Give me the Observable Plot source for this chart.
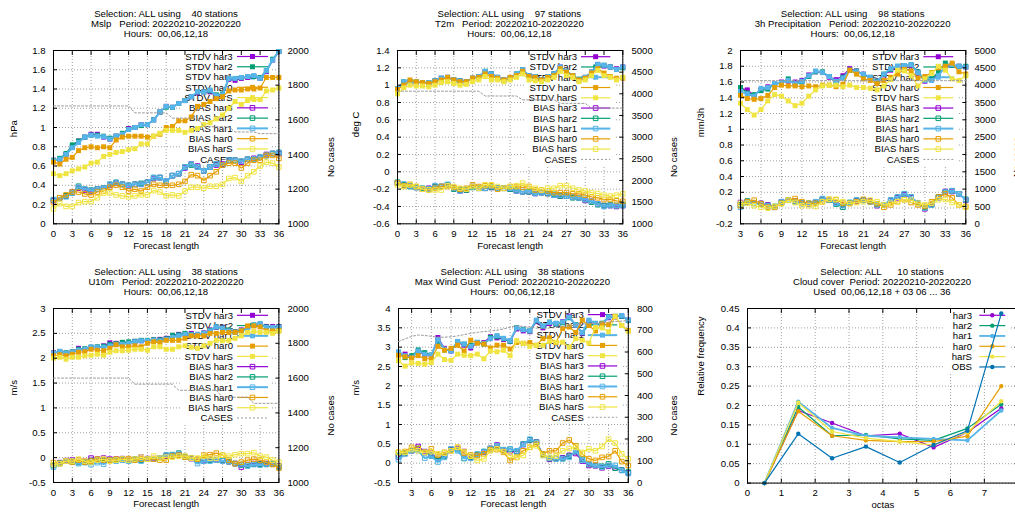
<!DOCTYPE html>
<html><head><meta charset="utf-8">
<script src="https://cdn.jsdelivr.net/npm/d3@7"></script>
<script src="https://cdn.jsdelivr.net/npm/@observablehq/plot@0.6"></script>
<style>
body{margin:0;background:#fff;}
#page{position:relative;width:1015px;height:513px;overflow:hidden;background:#fff;font-family:"Liberation Sans",Arial,sans-serif;}
.title{position:absolute;width:500px;text-align:center;font-size:9.6px;line-height:9.8px;white-space:pre;color:#000;}
</style></head><body><div id="page"></div>
<script>
// ---------------- categories / ticks ----------------
const modelNames = ["har3", "har2", "har1", "har0", "harS"];
const modelColors = ["#9400d3", "#009e73", "#56b4e9", "#e69f00", "#f0e442"];
const obsColor = "#0072b2";
const casesColor = "#9a9a9a";

const hours0to36 = [0,1,2,3,4,5,6,7,8,9,10,11,12,13,14,15,16,17,18,19,20,21,22,23,24,25,26,27,28,29,30,31,32,33,34,35,36];
const hours1to36 = [1,2,3,4,5,6,7,8,9,10,11,12,13,14,15,16,17,18,19,20,21,22,23,24,25,26,27,28,29,30,31,32,33,34,35,36];
const hours3to36 = [3,4,5,6,7,8,9,10,11,12,13,14,15,16,17,18,19,20,21,22,23,24,25,26,27,28,29,30,31,32,33,34,35,36];
const octaBins = [0.5,1.5,2.5,3.5,4.5,5.5,6.5,7.5];

const hourTicks0 = [0,3,6,9,12,15,18,21,24,27,30,33,36];
const hourTicks3 = [3,6,9,12,15,18,21,24,27,30,33,36];
const octaTicks = [0,1,2,3,4,5,6,7];

const mslpYTicks = [0,0.2,0.4,0.6,0.8,1,1.2,1.4,1.6,1.8];
const mslpY2Ticks = [1000,1200,1400,1600,1800,2000];
const t2mYTicks = [-0.6,-0.4,-0.2,0,0.2,0.4,0.6,0.8,1,1.2,1.4];
const t2mY2Ticks = [1000,1500,2000,2500,3000,3500,4000,4500,5000];
const precipYTicks = [-0.2,0,0.2,0.4,0.6,0.8,1,1.2,1.4,1.6,1.8,2];
const precipY2Ticks = [0,500,1000,1500,2000,2500,3000,3500,4000,4500,5000];
const u10YTicks = [-0.5,0,0.5,1,1.5,2,2.5,3];
const u10Y2Ticks = [1000,1200,1400,1600,1800,2000];
const gustYTicks = [-0.5,0,0.5,1,1.5,2,2.5,3,3.5,4];
const gustY2Ticks = [0,100,200,300,400,500,600,700,800];
const cloudYTicks = [0,0.05,0.1,0.15,0.2,0.25,0.3,0.35,0.4,0.45];

const cloudLegendLabels = ["har3","har2","har1","har0","harS","OBS"];

// ---------------- Mslp ----------------
const mslpStdvHar3 = [0.66,0.67,0.72,0.80,0.86,0.90,0.93,0.93,0.90,0.88,0.91,0.93,0.99,1.00,1.03,1.03,1.08,1.16,1.22,1.21,1.25,1.28,1.32,1.36,1.37,1.37,1.33,1.34,1.50,1.49,1.51,1.52,1.53,1.51,1.58,1.70,1.79];
const mslpStdvHar2 = [0.66,0.68,0.73,0.82,0.86,0.90,0.92,0.92,0.91,0.89,0.91,0.94,0.98,1.00,1.02,1.03,1.08,1.16,1.21,1.21,1.25,1.28,1.32,1.37,1.37,1.38,1.34,1.35,1.51,1.51,1.52,1.53,1.53,1.52,1.59,1.71,1.79];
const mslpStdvHar1 = [0.655,0.67,0.72,0.79,0.845,0.90,0.92,0.91,0.905,0.88,0.91,0.93,0.98,1.00,1.03,1.03,1.08,1.16,1.22,1.21,1.25,1.28,1.32,1.37,1.37,1.39,1.33,1.34,1.51,1.51,1.52,1.53,1.54,1.51,1.59,1.70,1.79];
const mslpStdvHar0 = [0.64,0.62,0.67,0.69,0.76,0.79,0.80,0.79,0.80,0.79,0.87,0.90,0.91,0.91,0.91,0.90,0.91,0.93,1.00,1.01,1.07,1.07,1.11,1.22,1.24,1.27,1.30,1.32,1.38,1.39,1.39,1.40,1.40,1.41,1.52,1.52,1.52];
const mslpStdvHarS = [0.52,0.50,0.52,0.55,0.57,0.59,0.63,0.64,0.70,0.72,0.74,0.75,0.77,0.78,0.83,0.83,0.91,0.94,0.97,0.97,0.97,0.95,0.97,0.99,1.03,1.05,1.09,1.13,1.20,1.27,1.24,1.28,1.29,1.29,1.38,1.39,1.41];
const mslpBiasHar3 = [0.24,0.27,0.29,0.33,0.37,0.35,0.34,0.36,0.37,0.40,0.42,0.41,0.39,0.41,0.41,0.43,0.47,0.48,0.44,0.50,0.52,0.58,0.62,0.60,0.55,0.59,0.61,0.62,0.66,0.66,0.64,0.67,0.68,0.69,0.72,0.73,0.73];
const mslpBiasHar2 = [0.25,0.27,0.29,0.32,0.39,0.36,0.35,0.36,0.37,0.41,0.43,0.41,0.40,0.41,0.42,0.43,0.48,0.48,0.44,0.50,0.52,0.59,0.61,0.59,0.55,0.59,0.62,0.61,0.66,0.66,0.65,0.67,0.67,0.69,0.71,0.73,0.74];
const mslpBiasHar1 = [0.25,0.27,0.28,0.32,0.38,0.36,0.345,0.36,0.37,0.41,0.43,0.41,0.40,0.41,0.41,0.43,0.48,0.48,0.44,0.50,0.52,0.59,0.62,0.59,0.55,0.59,0.62,0.61,0.66,0.66,0.65,0.67,0.67,0.69,0.71,0.73,0.74];
const mslpBiasHar0 = [0.22,0.27,0.30,0.33,0.33,0.31,0.30,0.33,0.34,0.38,0.40,0.38,0.34,0.36,0.34,0.38,0.41,0.40,0.40,0.40,0.41,0.44,0.51,0.50,0.45,0.50,0.54,0.61,0.63,0.63,0.58,0.63,0.66,0.66,0.71,0.71,0.68];
const mslpBiasHarS = [0.155,0.21,0.18,0.18,0.22,0.23,0.23,0.27,0.32,0.32,0.30,0.29,0.28,0.29,0.30,0.30,0.345,0.33,0.29,0.30,0.29,0.34,0.38,0.38,0.37,0.39,0.39,0.41,0.47,0.48,0.44,0.50,0.54,0.60,0.64,0.63,0.59];
const mslpCases = [1680,1680,1680,1680,1680,1680,1680,1680,1680,1680,1680,1680,1680,1640,1640,1640,1640,1640,1640,1610,1610,1610,1610,1610,1560,1560,1560,1560,1560,1530,1530,1530,1530,1520,1520,1520,1520];

// ---------------- T2m ----------------
const t2mStdvHar3 = [0.96,1.03,1.04,1.03,1.03,1.02,1.05,1.08,1.09,1.06,1.05,1.04,1.08,1.10,1.15,1.13,1.09,1.06,1.08,1.12,1.18,1.11,1.10,1.06,1.10,1.13,1.21,1.16,1.11,1.06,1.09,1.15,1.24,1.22,1.21,1.19,1.21];
const t2mStdvHar2 = [0.96,1.04,1.04,1.04,1.03,1.03,1.05,1.08,1.09,1.06,1.05,1.04,1.08,1.10,1.16,1.13,1.09,1.06,1.08,1.13,1.18,1.11,1.10,1.06,1.10,1.13,1.20,1.16,1.11,1.07,1.09,1.15,1.23,1.23,1.21,1.18,1.20];
const t2mStdvHar1 = [0.96,1.04,1.04,1.04,1.03,1.03,1.05,1.08,1.09,1.06,1.05,1.04,1.08,1.10,1.16,1.13,1.09,1.06,1.08,1.13,1.18,1.11,1.10,1.06,1.10,1.13,1.21,1.16,1.11,1.06,1.09,1.15,1.24,1.23,1.21,1.18,1.21];
const t2mStdvHar0 = [0.95,1.00,1.06,1.04,1.03,1.02,1.04,1.06,1.09,1.06,1.04,1.04,1.08,1.09,1.13,1.10,1.08,1.06,1.09,1.11,1.16,1.10,1.09,1.06,1.09,1.11,1.19,1.15,1.11,1.06,1.08,1.14,1.19,1.14,1.10,1.08,1.08];
const t2mStdvHarS = [0.90,0.97,1.00,0.99,0.99,0.98,1.00,1.03,1.04,1.02,1.00,1.01,1.04,1.06,1.10,1.06,1.06,1.04,1.06,1.09,1.13,1.06,1.05,1.04,1.06,1.09,1.16,1.11,1.09,1.04,1.06,1.11,1.17,1.11,1.09,1.06,1.09];
const t2mBiasHar3 = [-0.13,-0.15,-0.16,-0.18,-0.20,-0.19,-0.17,-0.17,-0.15,-0.19,-0.22,-0.21,-0.17,-0.19,-0.19,-0.18,-0.19,-0.19,-0.20,-0.22,-0.23,-0.23,-0.25,-0.24,-0.25,-0.27,-0.28,-0.28,-0.29,-0.30,-0.33,-0.34,-0.37,-0.39,-0.39,-0.40,-0.39];
const t2mBiasHar2 = [-0.12,-0.15,-0.17,-0.18,-0.19,-0.20,-0.17,-0.17,-0.15,-0.20,-0.21,-0.21,-0.18,-0.19,-0.19,-0.18,-0.19,-0.19,-0.20,-0.21,-0.23,-0.23,-0.24,-0.24,-0.25,-0.26,-0.28,-0.28,-0.30,-0.30,-0.32,-0.35,-0.38,-0.39,-0.38,-0.39,-0.38];
const t2mBiasHar1 = [-0.13,-0.14,-0.16,-0.18,-0.20,-0.20,-0.16,-0.17,-0.145,-0.19,-0.22,-0.20,-0.17,-0.19,-0.19,-0.17,-0.19,-0.19,-0.19,-0.22,-0.23,-0.22,-0.25,-0.24,-0.24,-0.27,-0.27,-0.28,-0.29,-0.30,-0.32,-0.34,-0.37,-0.40,-0.39,-0.39,-0.39];
const t2mBiasHar0 = [-0.13,-0.16,-0.145,-0.17,-0.20,-0.21,-0.19,-0.17,-0.17,-0.18,-0.20,-0.19,-0.15,-0.17,-0.16,-0.16,-0.20,-0.19,-0.17,-0.17,-0.18,-0.17,-0.21,-0.21,-0.22,-0.24,-0.24,-0.24,-0.255,-0.255,-0.27,-0.29,-0.30,-0.32,-0.32,-0.335,-0.34];
const t2mBiasHarS = [-0.15,-0.17,-0.15,-0.17,-0.20,-0.21,-0.21,-0.21,-0.16,-0.17,-0.19,-0.20,-0.17,-0.19,-0.15,-0.15,-0.17,-0.19,-0.17,-0.16,-0.13,-0.17,-0.19,-0.21,-0.19,-0.19,-0.16,-0.16,-0.19,-0.21,-0.22,-0.24,-0.25,-0.27,-0.28,-0.27,-0.255];
const t2mCases = [4060,4060,4060,4060,4060,4060,4060,4060,4060,4060,4060,4060,4060,4060,3950,3950,3950,3950,3950,3950,3860,3860,3860,3860,3860,3860,3780,3780,3780,3780,3780,3670,3670,3670,3670,3670,3670];

// ---------------- 3h Precipitation ----------------
const precipStdvHar3 = [1.52,1.50,1.43,1.50,1.54,1.57,1.60,1.61,1.60,1.62,1.69,1.73,1.72,1.66,1.63,1.68,1.77,1.74,1.70,1.65,1.61,1.69,1.75,1.79,1.80,1.81,1.71,1.61,1.63,1.70,1.79,1.81,1.80,1.79];
const precipStdvHar2 = [1.53,1.46,1.44,1.49,1.51,1.57,1.59,1.64,1.57,1.60,1.67,1.73,1.73,1.67,1.59,1.66,1.75,1.74,1.69,1.66,1.61,1.70,1.76,1.80,1.80,1.82,1.73,1.63,1.64,1.73,1.84,1.81,1.80,1.80];
const precipStdvHar1 = [1.48,1.45,1.42,1.52,1.53,1.58,1.59,1.62,1.58,1.61,1.68,1.74,1.72,1.67,1.61,1.65,1.75,1.73,1.70,1.66,1.60,1.70,1.77,1.80,1.81,1.82,1.72,1.62,1.62,1.68,1.80,1.82,1.80,1.79];
const precipStdvHar0 = [1.43,1.39,1.38,1.39,1.43,1.53,1.56,1.55,1.55,1.54,1.55,1.54,1.56,1.56,1.54,1.57,1.75,1.70,1.64,1.62,1.58,1.62,1.66,1.70,1.76,1.74,1.65,1.67,1.72,1.78,1.80,1.84,1.73,1.70];
const precipStdvHarS = [1.33,1.25,1.18,1.25,1.36,1.44,1.42,1.36,1.30,1.33,1.42,1.50,1.55,1.56,1.56,1.54,1.56,1.53,1.53,1.52,1.50,1.55,1.63,1.75,1.74,1.68,1.55,1.64,1.71,1.80,1.75,1.64,1.62,1.68];
const precipBiasHar3 = [0.07,0.08,0.06,0.06,0.04,0.01,0.08,0.10,0.09,0.06,0.05,0.07,0.11,0.10,0.07,0.04,0.06,0.09,0.10,0.09,0.03,0.04,0.09,0.13,0.17,0.13,0.06,-0.01,0.05,0.13,0.21,0.21,0.18,0.10];
const precipBiasHar2 = [0.04,0.09,0.06,0.05,0.03,0.02,0.07,0.10,0.08,0.06,0.06,0.07,0.11,0.10,0.05,0.01,0.07,0.10,0.10,0.08,0.05,0.04,0.10,0.14,0.18,0.14,0.06,0.01,0.04,0.14,0.20,0.22,0.18,0.11];
const precipBiasHar1 = [0.01,0.07,0.06,0.055,0.03,0.01,0.08,0.105,0.08,0.06,0.055,0.08,0.12,0.105,0.06,0.03,0.07,0.10,0.10,0.08,0.04,0.04,0.10,0.14,0.18,0.14,0.06,0.00,0.04,0.13,0.20,0.22,0.18,0.105];
const precipBiasHar0 = [0.03,0.08,0.10,0.055,0.01,0.01,0.06,0.10,0.12,0.08,0.06,0.06,0.08,0.11,0.105,0.06,0.06,0.08,0.11,0.08,0.055,0.01,0.04,0.08,0.105,0.07,0.04,0.02,0.08,0.14,0.18,0.13,0.04,0.02];
const precipBiasHarS = [0.06,0.06,0.03,0.01,0.00,0.02,0.055,0.10,0.07,0.03,0.03,0.02,0.08,0.11,0.11,0.08,0.055,0.07,0.08,0.10,0.08,0.04,0.06,0.08,0.105,0.10,0.06,0.04,0.06,0.105,0.11,0.07,0.04,0.01];
const precipCases = [4130,4130,4130,4130,4130,4130,4130,4130,4130,4130,4130,4130,4130,4130,4130,4130,4130,4130,4130,4130,4130,4130,4130,4130,4130,4130,4130,4130,4130,4130,4130,4130,4130,4130];

// ---------------- U10m ----------------
const u10StdvHar3 = [2.11,2.13,2.10,2.12,2.20,2.18,2.21,2.22,2.25,2.31,2.30,2.31,2.30,2.34,2.35,2.35,2.37,2.38,2.40,2.46,2.48,2.48,2.50,2.48,2.51,2.57,2.62,2.62,2.56,2.53,2.57,2.62,2.66,2.68,2.64,2.64,2.64];
const u10StdvHar2 = [2.10,2.13,2.11,2.13,2.18,2.19,2.22,2.23,2.24,2.28,2.29,2.32,2.33,2.34,2.36,2.36,2.37,2.37,2.39,2.46,2.47,2.50,2.48,2.47,2.50,2.56,2.63,2.61,2.57,2.53,2.56,2.61,2.67,2.67,2.63,2.62,2.63];
const u10StdvHar1 = [2.10,2.14,2.10,2.12,2.16,2.18,2.23,2.22,2.22,2.25,2.28,2.28,2.30,2.33,2.35,2.35,2.36,2.35,2.38,2.42,2.45,2.48,2.47,2.48,2.50,2.55,2.63,2.60,2.55,2.52,2.55,2.58,2.67,2.70,2.62,2.62,2.62];
const u10StdvHar0 = [2.05,2.07,2.05,2.08,2.12,2.13,2.18,2.16,2.15,2.20,2.27,2.23,2.23,2.25,2.23,2.30,2.33,2.32,2.36,2.36,2.36,2.40,2.45,2.45,2.45,2.50,2.50,2.52,2.52,2.52,2.55,2.65,2.65,2.63,2.55,2.55,2.56];
const u10StdvHarS = [2.00,2.02,1.98,2.02,2.02,2.05,2.06,2.08,2.06,2.12,2.15,2.15,2.16,2.18,2.18,2.16,2.23,2.23,2.18,2.18,2.23,2.25,2.22,2.20,2.25,2.30,2.36,2.35,2.36,2.40,2.45,2.52,2.54,2.52,2.52,2.50,2.54];
const u10BiasHar3 = [-0.15,-0.10,-0.06,-0.05,-0.08,-0.07,-0.01,-0.03,-0.01,-0.03,-0.03,-0.02,-0.05,-0.04,0.01,-0.02,-0.02,-0.01,0.03,0.04,0.06,0.02,-0.02,-0.05,-0.06,-0.04,-0.04,-0.06,-0.08,-0.12,-0.19,-0.14,-0.12,-0.13,-0.12,-0.12,-0.17];
const u10BiasHar2 = [-0.16,-0.11,-0.07,-0.08,-0.10,-0.09,-0.06,-0.05,-0.06,-0.05,-0.05,-0.04,-0.06,-0.03,-0.05,-0.03,-0.03,-0.01,0.05,0.06,0.09,0.02,-0.01,-0.06,-0.07,-0.05,-0.05,-0.06,-0.08,-0.12,-0.15,-0.15,-0.13,-0.13,-0.13,-0.12,-0.18];
const u10BiasHar1 = [-0.19,-0.12,-0.07,-0.09,-0.12,-0.10,-0.14,-0.10,-0.13,-0.05,-0.07,-0.05,-0.07,-0.05,-0.07,-0.03,-0.03,-0.01,0.05,0.05,0.08,0.01,-0.01,-0.12,-0.07,-0.07,-0.05,-0.07,-0.07,-0.12,-0.14,-0.17,-0.14,-0.15,-0.14,-0.12,-0.19];
const u10BiasHar0 = [-0.10,-0.12,-0.07,-0.09,-0.05,-0.09,-0.07,-0.03,-0.05,-0.05,-0.03,-0.03,-0.02,-0.05,-0.03,-0.03,-0.03,-0.05,-0.05,0.03,0.05,0.01,-0.01,-0.03,0.05,0.06,0.09,0.05,-0.05,-0.12,-0.09,-0.05,-0.03,-0.05,-0.09,-0.14,-0.21];
const u10BiasHarS = [-0.14,-0.12,-0.07,-0.07,-0.03,-0.07,-0.10,-0.05,-0.03,-0.07,-0.05,-0.03,-0.05,-0.03,0.01,-0.03,0.03,-0.01,0.01,0.01,0.03,0.03,-0.01,-0.01,0.03,-0.01,-0.01,0.05,0.03,0.06,0.08,0.08,0.10,0.03,0.01,-0.05,-0.09];
const u10Cases = [1600,1600,1600,1600,1600,1600,1600,1600,1600,1600,1600,1600,1600,1565,1565,1565,1565,1565,1565,1565,1530,1530,1530,1530,1530,1530,1530,1490,1490,1490,1490,1490,1455,1455,1455,1455,1455];

// ---------------- Max Wind Gust ----------------
const gustStdvHar3 = [2.83,2.82,2.74,2.88,2.80,2.78,3.25,2.97,2.90,3.12,3.05,2.98,3.12,3.12,3.27,3.24,3.20,3.15,3.47,3.42,3.40,3.66,3.50,3.61,3.60,3.66,3.80,3.57,3.35,3.66,3.58,3.60,3.76,3.78,3.80,3.70];
const gustStdvHar2 = [2.84,2.73,2.78,2.93,2.86,2.80,3.15,2.93,2.92,3.14,3.08,3.05,3.12,3.08,3.25,3.27,3.22,3.15,3.51,3.46,3.42,3.68,3.54,3.65,3.60,3.63,3.76,3.58,3.37,3.58,3.58,3.62,3.79,3.79,3.80,3.69];
const gustStdvHar1 = [2.88,2.78,2.73,2.90,2.82,2.79,3.20,2.95,2.90,3.15,3.08,3.02,3.13,3.10,3.22,3.30,3.23,3.17,3.50,3.45,3.42,3.70,3.55,3.64,3.62,3.65,3.78,3.57,3.38,3.70,3.62,3.60,3.78,3.80,3.82,3.70];
const gustStdvHar0 = [2.79,2.75,2.72,2.78,2.70,2.70,3.02,2.92,2.97,3.05,2.90,3.18,3.10,3.08,2.98,3.05,3.05,2.95,3.12,3.10,3.12,3.05,3.22,3.24,3.12,3.48,3.52,3.38,3.70,3.56,3.42,3.60,3.58,3.80,3.56,3.43];
const gustStdvHarS = [2.65,2.51,2.59,2.58,2.56,2.60,2.82,2.68,2.66,2.82,2.79,2.78,2.82,2.70,2.90,2.88,2.92,2.78,3.17,3.10,3.02,3.05,3.05,3.15,3.13,3.13,3.00,3.22,3.18,3.11,3.51,3.50,3.40,3.79,3.56,3.41];
const gustBiasHar3 = [0.16,0.25,0.32,0.43,0.30,0.25,0.12,0.20,0.35,0.38,0.30,0.15,0.20,0.28,0.38,0.47,0.32,0.30,0.30,0.48,0.60,0.55,0.22,0.10,0.12,0.14,0.20,0.25,0.05,-0.06,-0.07,-0.12,-0.08,-0.12,-0.18,-0.25];
const gustBiasHar2 = [0.20,0.26,0.33,0.38,0.28,0.20,0.10,0.18,0.36,0.35,0.12,0.15,0.22,0.30,0.38,0.44,0.34,0.36,0.30,0.50,0.60,0.54,0.22,0.12,0.12,0.12,0.18,0.30,0.10,-0.03,-0.05,-0.08,-0.02,-0.13,-0.18,-0.23];
const gustBiasHar1 = [0.09,0.24,0.32,0.32,0.13,0.18,0.03,0.15,0.37,0.32,0.13,0.13,0.24,0.30,0.37,0.45,0.35,0.37,0.32,0.49,0.62,0.54,0.20,0.13,0.11,0.11,0.15,0.32,0.07,-0.02,-0.06,-0.10,-0.06,-0.06,-0.19,-0.27];
const gustBiasHar0 = [0.28,0.30,0.41,0.38,0.28,0.37,0.21,0.28,0.32,0.41,0.26,0.21,0.20,0.24,0.35,0.35,0.28,0.07,0.15,0.32,0.41,0.49,0.24,0.32,0.32,0.52,0.60,0.45,0.24,0.11,0.07,0.15,0.17,0.32,0.04,-0.06];
const gustBiasHarS = [0.28,0.28,0.35,0.32,0.28,0.30,0.24,0.26,0.32,0.41,0.30,0.18,0.07,0.11,0.32,0.37,0.30,0.20,0.15,0.20,0.41,0.45,0.20,0.15,0.18,0.32,0.38,0.41,0.28,0.37,0.32,0.43,0.62,0.52,0.24,0.11];
const gustCases = [648,660,672,678,676,672,668,668,670,674,680,686,690,694,697,700,706,714,720,718,714,710,708,710,712,716,720,724,728,730,732,735,738,740,742,745];

// ---------------- Cloud cover ----------------
const cloudHar3 = [0,0.187,0.155,0.122,0.127,0.092,0.131,0.193];
const cloudHar2 = [0,0.196,0.122,0.124,0.114,0.110,0.141,0.203];
const cloudHar1 = [0,0.210,0.142,0.122,0.118,0.114,0.110,0.187];
const cloudHar0 = [0,0.185,0.122,0.110,0.107,0.107,0.121,0.250];
const cloudHarS = [0,0.207,0.133,0.116,0.107,0.098,0.131,0.211];
const cloudObs  = [0,0.127,0.064,0.094,0.053,0.098,0.135,0.437];

// ---------------- rendering ----------------
const FONT = '"Liberation Sans", Arial, sans-serif';
const FS = 9.6;
const fmt = d => String(Math.round(d * 1000) / 1000);
const page = document.getElementById("page");

function stdvBias(stdv, bias) {
  const out = [];
  stdv.forEach((v, i) => out.push({label: "STDV " + modelNames[i], values: v, color: modelColors[i], width: i === 2 ? 2 : 1.2, symbol: "square", r: 2.8, filled: true}));
  bias.forEach((v, i) => out.push({label: "BIAS " + modelNames[i], values: v, color: modelColors[i], width: i === 2 ? 2 : 1.2, symbol: "square", r: 2.6, filled: false}));
  return out;
}

function legendMark(L, entries, ox, oy) {
  return () => {
    const g = d3.create("svg:g").attr("font-family", FONT).attr("font-size", FS);
    const n = entries.length;
    g.append("rect").attr("x", L.boxLeft - ox).attr("y", L.top - 6 - oy)
      .attr("width", L.x2 + 4 - L.boxLeft).attr("height", (n - 1) * L.step + 12).attr("fill", "#fff");
    entries.forEach((e, i) => {
      const y = L.top + i * L.step - oy;
      g.append("text").attr("x", L.textRight - ox).attr("y", y).attr("dy", "0.35em")
        .attr("text-anchor", "end").attr("fill", "#000").text(e.label);
      g.append("line").attr("x1", L.x1 - ox).attr("x2", L.x2 - ox).attr("y1", y).attr("y2", y)
        .attr("stroke", e.color).attr("stroke-width", e.width).attr("stroke-dasharray", e.dash || null);
      if (e.symbol) {
        const cx = (L.x1 + L.x2) / 2 - ox;
        const p = d3.symbol(e.symbol === "square" ? d3.symbolSquare : d3.symbolCircle, e.r * e.r * Math.PI)();
        g.append("path").attr("d", p).attr("transform", `translate(${cx},${y})`)
          .attr("fill", e.filled ? e.color : "none").attr("stroke", e.filled ? "none" : e.color).attr("stroke-width", 1);
      }
    });
    return g.node();
  };
}

function addTitle(lines, cx, top) {
  const d = document.createElement("div");
  d.className = "title";
  d.style.left = (cx - 250) + "px";
  d.style.top = top + "px";
  d.textContent = lines.join("\n");
  page.appendChild(d);
}

function place(svg, left, top) {
  svg.style.position = "absolute";
  svg.style.left = left + "px";
  svg.style.top = top + "px";
  svg.style.background = "transparent";
  svg.style.overflow = "visible";
  svg.style.maxWidth = "none";
  page.appendChild(svg);
}

function addPanel(cfg) {
  const mL = 60, mR = 60, mT = 10, mB = 40;
  const f = cfg.frame;
  const fw = f.right - f.left, fh = f.bottom - f.top;
  const W = fw + mL + mR, H = fh + mT + mB;
  const ox = f.left - mL, oy = f.top - mT;
  const base = {width: W, height: H, marginLeft: mL, marginRight: mR, marginTop: mT, marginBottom: mB,
    style: {background: "transparent", fontFamily: FONT, fontSize: FS + "px", color: "#000", overflow: "visible"}};
  const gridStyle = {stroke: "#a0a0a0", strokeOpacity: 1, strokeDasharray: "1,2", strokeWidth: 1};
  const entries = cfg.series.map(s => s);
  if (cfg.cases) entries.push({label: "CASES", color: casesColor, width: 1, dash: "2,2"});
  const marks = [
    Plot.gridX(cfg.xTicks, gridStyle),
    Plot.gridY(cfg.yTicks, gridStyle),
    legendMark(cfg.legend, entries, ox, oy)
  ];
  const xs = cfg.xs;
  cfg.series.forEach(s => {
    marks.push(Plot.line(s.values, {x: (d, i) => xs[i], y: d => d, stroke: s.color, strokeWidth: s.width}));
    marks.push(Plot.dot(s.values, {x: (d, i) => xs[i], y: d => d, symbol: s.symbol, r: s.r,
      fill: s.filled ? s.color : "none", stroke: s.filled ? "none" : s.color, strokeWidth: 1}));
  });
  marks.push(
    Plot.axisX(cfg.xTicks, {anchor: "bottom", tickSize: -4, tickPadding: 10.4, tickFormat: fmt, label: null, fill: "#000"}),
    Plot.axisX(cfg.xTicks, {anchor: "top", tickSize: -4, tickFormat: () => "", label: null}),
    Plot.axisY(cfg.yTicks, {anchor: "left", tickSize: -4, tickPadding: 12, tickFormat: fmt, label: null, fill: "#000"}),
    Plot.text([cfg.xLabel], {frameAnchor: "bottom", dy: cfg.xLabelDy, text: d => d, fill: "#000"}),
    Plot.text([cfg.yLabel], {frameAnchor: "left", dx: cfg.yLabelDx, rotate: -90, text: d => d, fill: "#000"}),
    Plot.frame({stroke: "#000", strokeWidth: 1})
  );
  if (!cfg.cases) marks.push(Plot.axisY(cfg.yTicks, {anchor: "right", tickSize: -4, tickFormat: () => "", label: null}));
  const main = Plot.plot({...base, x: {domain: cfg.xDomain}, y: {domain: cfg.yDomain}, marks});
  place(main, ox, oy);

  if (cfg.cases) {
    const over = Plot.plot({...base,
      x: {domain: cfg.xDomain, axis: null},
      y: {domain: cfg.y2Domain, axis: null},
      marks: [
        Plot.line(cfg.cases, {x: (d, i) => xs[i], y: d => d, stroke: casesColor, strokeWidth: 1, strokeDasharray: "2,2"}),
        Plot.axisY(cfg.y2Ticks, {anchor: "right", tickSize: -4, tickPadding: 12.6, tickFormat: fmt, label: null, fill: "#000"}),
        Plot.text([cfg.y2Label], {frameAnchor: "right", dx: cfg.y2LabelDx, rotate: -90, text: d => d, fill: "#000"})
      ]});
    place(over, ox, oy);
  }
  addTitle(cfg.title, (f.left + f.right) / 2, cfg.titleTop);
}

function stdLegend(textRight, x1, x2, top) {
  return {textRight, x1, x2, top, step: 10.27, boxLeft: textRight - 52};
}

addPanel({
  title: ["Selection: ALL using    40 stations", "Mslp   Period: 20220210-20220220", "Hours:  00,06,12,18"], titleTop: 9.3,
  frame: {left: 53.3, top: 50, right: 278.7, bottom: 223.3},
  xs: hours0to36, xDomain: [0, 36], xTicks: hourTicks0,
  yDomain: [0, 1.8], yTicks: mslpYTicks, y2Domain: [1000, 2000], y2Ticks: mslpY2Ticks,
  series: stdvBias([mslpStdvHar3, mslpStdvHar2, mslpStdvHar1, mslpStdvHar0, mslpStdvHarS], [mslpBiasHar3, mslpBiasHar2, mslpBiasHar1, mslpBiasHar0, mslpBiasHarS]),
  cases: mslpCases,
  xLabel: "Forecast length", xLabelDy: 25, yLabel: "hPa", yLabelDx: -40, y2Label: "No cases", y2LabelDx: 52,
  legend: stdLegend(233, 237.3, 268.3, 56.5)
});

addPanel({
  title: ["Selection: ALL using    97 stations", "T2m   Period: 20220210-20220220", "Hours:  00,06,12,18"], titleTop: 9.3,
  frame: {left: 396.7, top: 50, right: 622, bottom: 223.3},
  xs: hours0to36, xDomain: [0, 36], xTicks: hourTicks0,
  yDomain: [-0.6, 1.4], yTicks: t2mYTicks, y2Domain: [1000, 5000], y2Ticks: t2mY2Ticks,
  series: stdvBias([t2mStdvHar3, t2mStdvHar2, t2mStdvHar1, t2mStdvHar0, t2mStdvHarS], [t2mBiasHar3, t2mBiasHar2, t2mBiasHar1, t2mBiasHar0, t2mBiasHarS]),
  cases: t2mCases,
  xLabel: "Forecast length", xLabelDy: 25, yLabel: "deg C", yLabelDx: -41.7, y2Label: "No cases", y2LabelDx: 51.3,
  legend: stdLegend(576.7, 580.7, 610, 56.7)
});

addPanel({
  title: ["Selection: ALL using    98 stations", "3h Precipitation   Period: 20220210-20220220", "Hours:  00,06,12,18"], titleTop: 9.3,
  frame: {left: 740, top: 50, right: 965.3, bottom: 223.3},
  xs: hours3to36, xDomain: [3, 36], xTicks: hourTicks3,
  yDomain: [-0.2, 2], yTicks: precipYTicks, y2Domain: [0, 5000], y2Ticks: precipY2Ticks,
  series: stdvBias([precipStdvHar3, precipStdvHar2, precipStdvHar1, precipStdvHar0, precipStdvHarS], [precipBiasHar3, precipBiasHar2, precipBiasHar1, precipBiasHar0, precipBiasHarS]),
  cases: precipCases,
  xLabel: "Forecast length", xLabelDy: 25, yLabel: "mm/3h", yLabelDx: -40, y2Label: "No cases", y2LabelDx: 51,
  legend: stdLegend(919.3, 923.3, 953.3, 56.7)
});

addPanel({
  title: ["Selection: ALL using    38 stations", "U10m   Period: 20220210-20220220", "Hours:  00,06,12,18"], titleTop: 267,
  frame: {left: 53.3, top: 307.7, right: 278.7, bottom: 481.7},
  xs: hours0to36, xDomain: [0, 36], xTicks: hourTicks0,
  yDomain: [-0.5, 3], yTicks: u10YTicks, y2Domain: [1000, 2000], y2Ticks: u10Y2Ticks,
  series: stdvBias([u10StdvHar3, u10StdvHar2, u10StdvHar1, u10StdvHar0, u10StdvHarS], [u10BiasHar3, u10BiasHar2, u10BiasHar1, u10BiasHar0, u10BiasHarS]),
  cases: u10Cases,
  xLabel: "Forecast length", xLabelDy: 25, yLabel: "m/s", yLabelDx: -40, y2Label: "No cases", y2LabelDx: 52,
  legend: stdLegend(233.3, 237.3, 268.3, 315)
});

addPanel({
  title: ["Selection: ALL using    38 stations", "Max Wind Gust   Period: 20220210-20220220", "Hours:  00,06,12,18"], titleTop: 267,
  frame: {left: 397.5, top: 307.7, right: 627.3, bottom: 481.7},
  xs: hours1to36, xDomain: [1, 36], xTicks: hourTicks3,
  yDomain: [-0.5, 4], yTicks: gustYTicks, y2Domain: [0, 800], y2Ticks: gustY2Ticks,
  series: stdvBias([gustStdvHar3, gustStdvHar2, gustStdvHar1, gustStdvHar0, gustStdvHarS], [gustBiasHar3, gustBiasHar2, gustBiasHar1, gustBiasHar0, gustBiasHarS]),
  cases: gustCases,
  xLabel: "Forecast length", xLabelDy: 25, yLabel: "m/s", yLabelDx: -42.5, y2Label: "No cases", y2LabelDx: 46,
  legend: stdLegend(583.3, 587.3, 616.7, 314.3)
});

const cloudSeries = [cloudHar3, cloudHar2, cloudHar1, cloudHar0, cloudHarS, cloudObs].map((v, i) => ({
  label: cloudLegendLabels[i], values: v, color: i < 5 ? modelColors[i] : obsColor,
  width: i === 2 ? 1.8 : 1.2, symbol: "circle", r: 2.2, filled: true
}));
addPanel({
  title: ["Selection: ALL      10 stations", "Cloud cover  Period: 20220210-20220220", "Used  00,06,12,18 + 03 06 ... 36"], titleTop: 267,
  frame: {left: 746.7, top: 307.7, right: 1017.4, bottom: 482.3},
  xs: octaBins, xDomain: [0, 8], xTicks: octaTicks,
  yDomain: [0, 0.45], yTicks: cloudYTicks,
  series: cloudSeries, cases: null,
  xLabel: "octas", xLabelDy: 24.5, yLabel: "Relative frequency", yLabelDx: -46.7,
  legend: {textRight: 971.7, x1: 979, x2: 1005, top: 315, step: 10.33, boxLeft: 944}
});
</script></body></html>
